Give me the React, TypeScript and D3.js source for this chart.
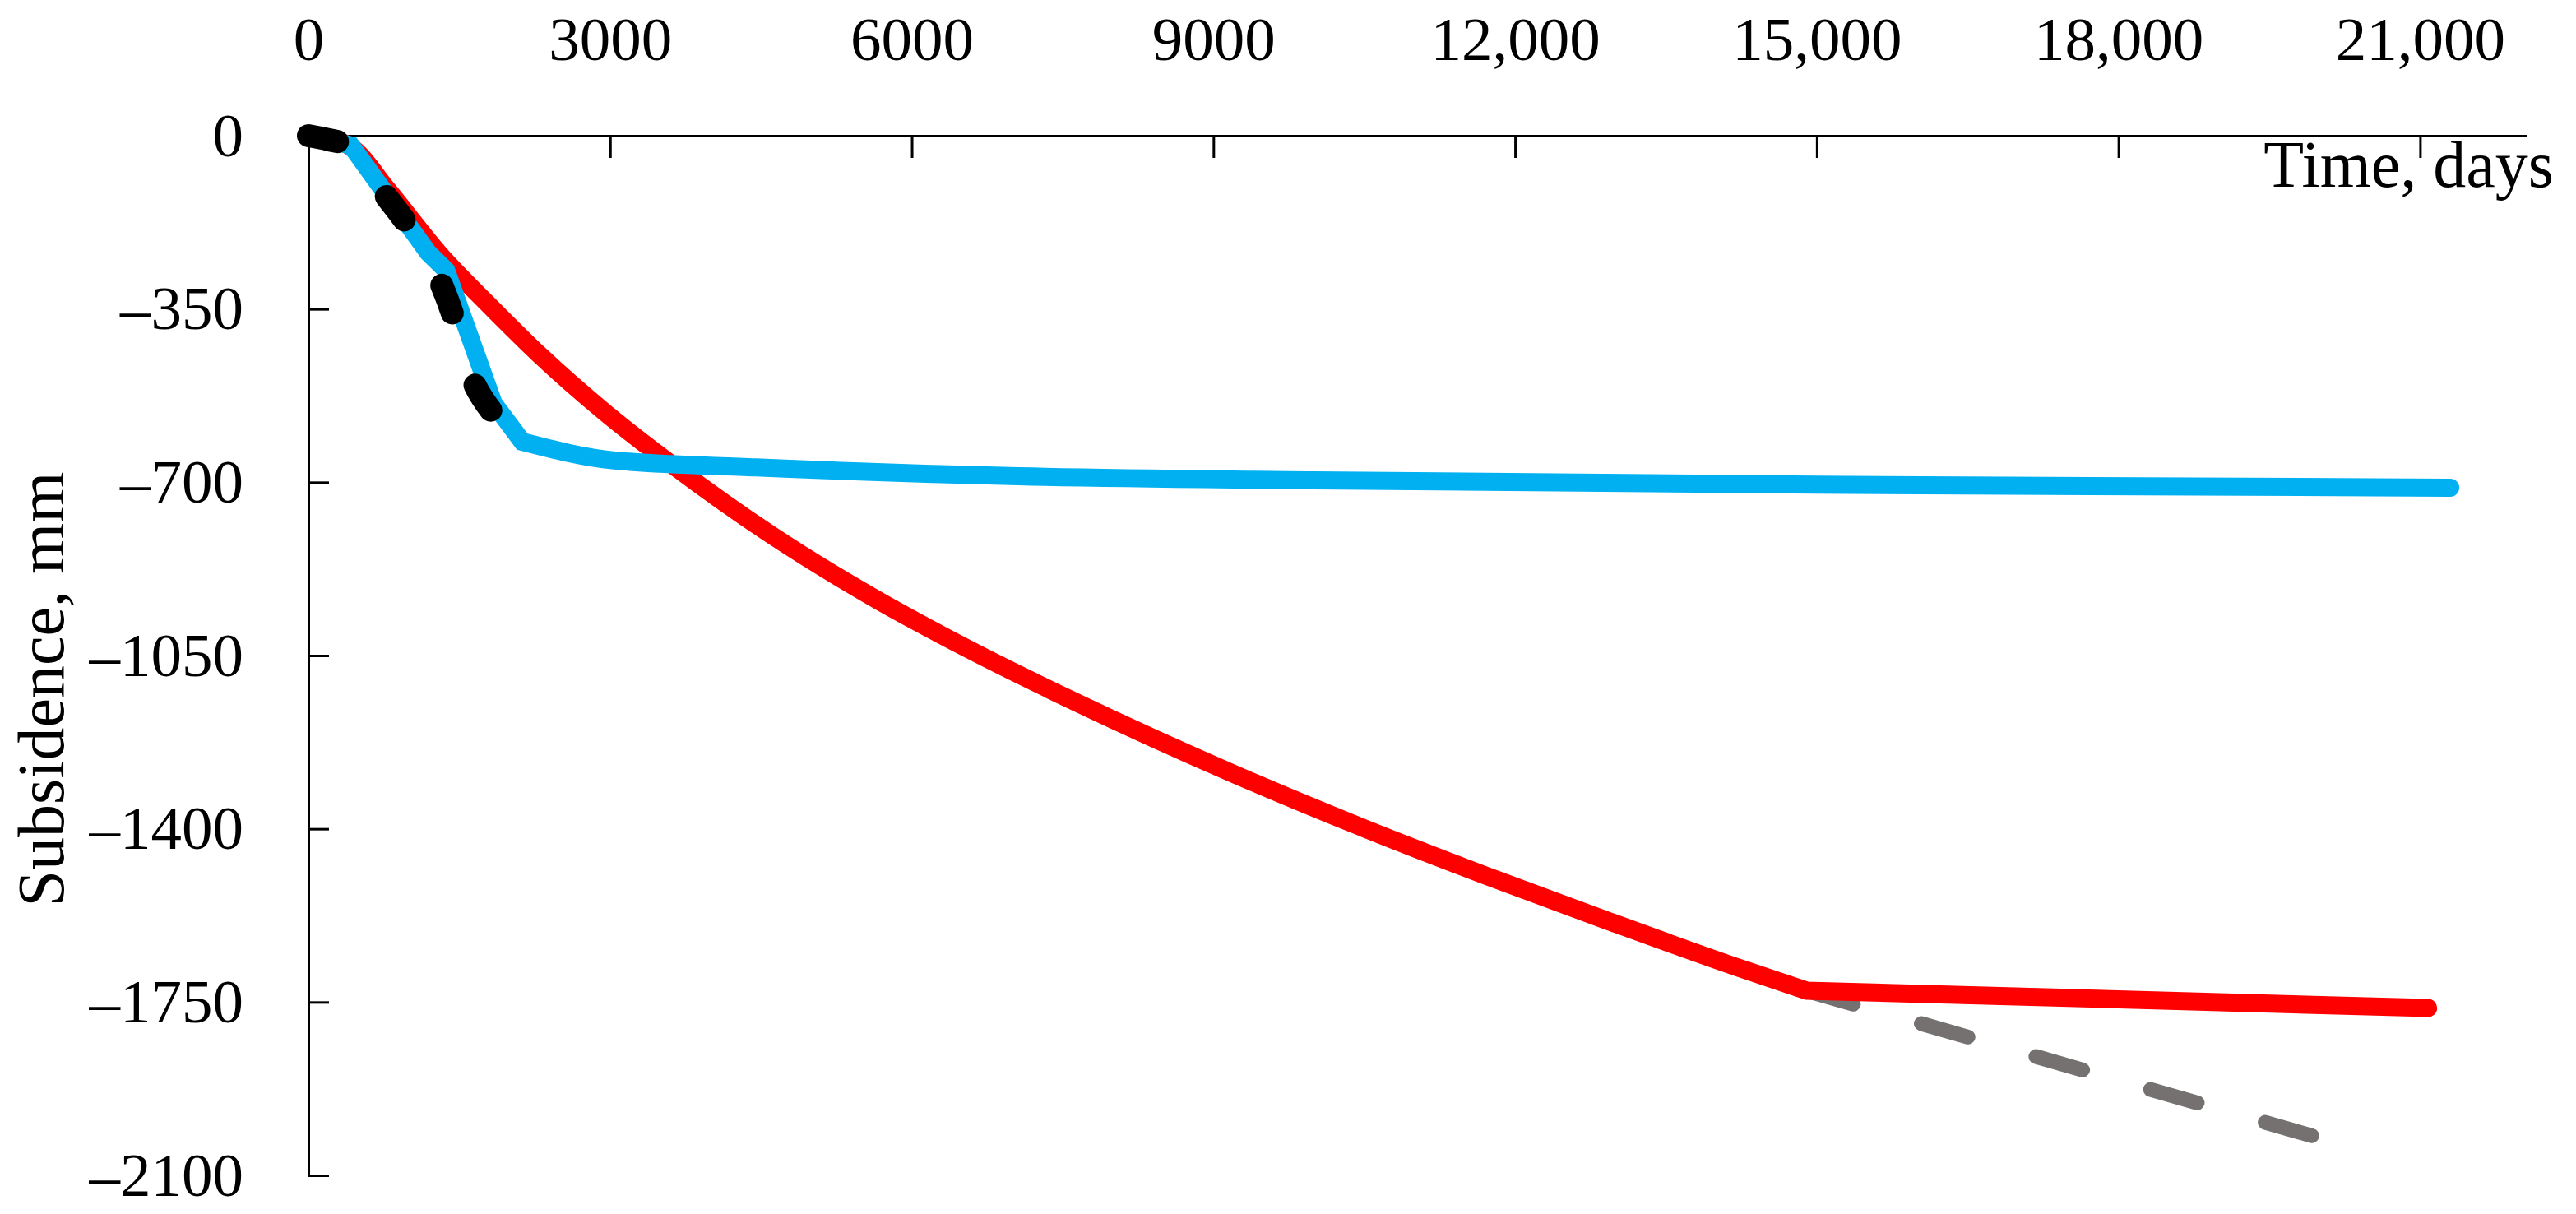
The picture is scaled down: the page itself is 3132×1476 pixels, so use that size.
import { useEffect, useRef } from "react"
import * as d3 from "d3"

type Pt = [number, number]

// time (days) vs subsidence (mm)
const redSeries: Pt[] = [
  [0, 0], [200, -6], [420, -22], [800, -112], [1300, -238], [1800, -343],
  [2300, -443], [2950, -559], [3600, -662], [4600, -806], [5600, -931],
  [6600, -1041], [7650, -1146], [9200, -1289], [10450, -1395], [11700, -1494],
  [12950, -1588], [14200, -1679], [14900, -1727], [21080, -1762],
]
const redKinkIndex = 18

const blueSeries: Pt[] = [
  [0, 0], [150, -5], [425, -20], [1190, -236], [1370, -272], [1840, -540],
  [2127, -618], [3044, -656], [4450, -670], [7060, -688], [10000, -696],
  [15000, -705], [21300, -711],
]
const blueKinkIndex = 6

const blackSeries: Pt[] = [
  [0, 0], [200, -8], [420, -22], [720, -108], [1023, -191], [1293, -286],
  [1456, -374], [1595, -473], [1820, -556],
]

const graySeries: Pt[] = [[14900, -1727], [20010, -2025]]

const xTicks = [0, 3000, 6000, 9000, 12000, 15000, 18000, 21000]
const yTicks = [0, -350, -700, -1050, -1400, -1750, -2100]

const xTitle = "Time, days"
const yTitle = "Subsidence, mm"

const W = 3132
const H = 1476
const FONT = "'Liberation Serif', 'Times New Roman', serif"

export default function App() {
  const svgRef = useRef<SVGSVGElement>(null)

  useEffect(() => {
    if (!svgRef.current) return
    const svg = d3.select(svgRef.current)
    svg.selectAll("*").remove()

    const x = d3.scaleLinear().domain([0, 22060]).range([375, 3072])
    const y = d3.scaleLinear().domain([0, -2100]).range([165, 1429])

    svg.append("rect").attr("width", W).attr("height", H).attr("fill", "#fff")

    const fmtX = (d: number) => (d >= 10000 ? d3.format(",")(d) : String(d))
    const fmtY = (d: number) => (d === 0 ? "0" : "\u2013" + Math.abs(d))

    // x axis along the top, ticks pointing down
    const gx = svg
      .append("g")
      .attr("transform", `translate(0,${y(0)})`)
      .call(
        d3
          .axisTop(x)
          .tickValues(xTicks)
          .tickSizeInner(-27)
          .tickSizeOuter(0)
          .tickPadding(92)
          .tickFormat((d) => fmtX(d as number)),
      )

    // y axis, ticks pointing right
    const gy = svg
      .append("g")
      .attr("transform", `translate(${x(0)},0)`)
      .call(
        d3
          .axisLeft(y)
          .tickValues(yTicks)
          .tickSizeInner(-25)
          .tickSizeOuter(0)
          .tickPadding(79)
          .tickFormat((d) => fmtY(d as number)),
      )

    for (const g of [gx, gy]) {
      g.select(".domain").attr("stroke", "#000").attr("stroke-width", 3)
      g.selectAll(".tick line").attr("stroke", "#000").attr("stroke-width", 3)
      g.selectAll(".tick text")
        .attr("fill", "#000")
        .style("font-family", FONT)
        .style("font-size", "75px")
    }
    gx.selectAll(".tick").filter((d) => d === 0).select("line").remove()

    const line = d3
      .line<Pt>()
      .x((d) => x(d[0]))
      .y((d) => y(d[1]))

    const smooth = d3
      .line<Pt>()
      .x((d) => x(d[0]))
      .y((d) => y(d[1]))
      .curve(d3.curveMonotoneX)

    // joins a smooth run and a straight run into one path
    const joined = (a: string | null, b: string | null) => (a ?? "") + (b ?? "").replace(/^M/, "L")

    // gray dashed extrapolation
    svg
      .append("path")
      .attr("d", line(graySeries))
      .attr("fill", "none")
      .attr("stroke", "#767171")
      .attr("stroke-width", 18)
      .attr("stroke-linecap", "round")
      .attr("stroke-dasharray", "59 86")

    // red curve: smooth up to the kink, straight afterwards
    svg
      .append("path")
      .attr("d", joined(smooth(redSeries.slice(0, redKinkIndex + 1)), line(redSeries.slice(redKinkIndex))))
      .attr("fill", "none")
      .attr("stroke", "#ff0000")
      .attr("stroke-width", 22)
      .attr("stroke-linecap", "round")
      .attr("stroke-linejoin", "miter")

    // blue curve: straight pieces up to the kink, smooth afterwards
    svg
      .append("path")
      .attr("d", joined(line(blueSeries.slice(0, blueKinkIndex + 1)), smooth(blueSeries.slice(blueKinkIndex))))
      .attr("fill", "none")
      .attr("stroke", "#00b0f0")
      .attr("stroke-width", 22)
      .attr("stroke-linecap", "round")
      .attr("stroke-linejoin", "miter")

    svg
      .append("path")
      .attr("d", smooth(blackSeries))
      .attr("fill", "none")
      .attr("stroke", "#000")
      .attr("stroke-width", 28)
      .attr("stroke-linecap", "round")
      .attr("stroke-dasharray", "36 92")

    // axis titles
    svg
      .append("text")
      .attr("x", 3105)
      .attr("y", 227)
      .attr("text-anchor", "end")
      .style("font-family", FONT)
      .style("font-size", "80px")
      .attr("fill", "#000")
      .text(xTitle)

    svg
      .append("text")
      .attr("transform", `translate(77,838) rotate(-90)`)
      .attr("text-anchor", "middle")
      .style("font-family", FONT)
      .style("font-size", "80px")
      .attr("fill", "#000")
      .text(yTitle)
  }, [])

  return (
    <svg
      ref={svgRef}
      width={W}
      height={H}
      style={{ position: "absolute", left: 0, top: 0, display: "block" }}
    />
  )
}
